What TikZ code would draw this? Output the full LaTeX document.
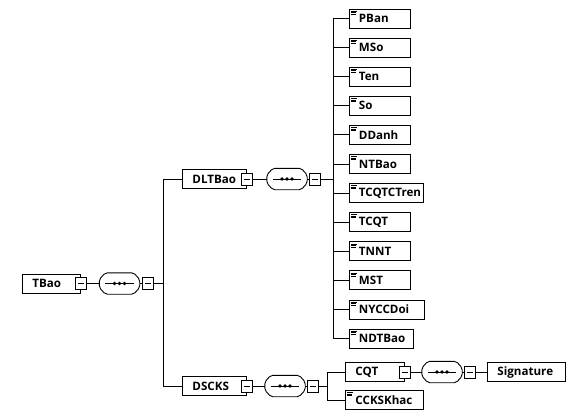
\documentclass[tikz,border=0pt]{standalone}
\usepackage{fontspec}
\setmainfont{Open Sans}
\usetikzlibrary{calc}
\newcommand\seqdraw[1]{%
  \draw[line width=0.9pt, rounded corners=2pt] ([xshift=6pt]#1.north west) -- ([xshift=-6pt]#1.north east) -- ([yshift=4pt]#1.east) -- ([yshift=-4pt]#1.east) -- ([xshift=-6pt]#1.south east) -- ([xshift=6pt]#1.south west) -- ([yshift=-4pt]#1.west) -- ([yshift=4pt]#1.west) -- cycle;
  \draw[line width=0.8pt] ([xshift=6pt]#1.west) -- ([xshift=-6pt]#1.east);
  \foreach \d in {-5,0,5} \fill ([xshift=\d pt]#1.center) circle (1.8pt);
}
\begin{document}
\begin{tikzpicture}[x=1pt,y=-1pt,
  box/.style={draw, line width=0.9pt, minimum height=19pt, inner xsep=0pt, inner ysep=0pt,
    anchor=west, align=left, font=\fontsize{11.6}{13}\selectfont\bfseries},
  leaf/.style={box, path picture={
    \draw[line width=0.5pt] ([xshift=2pt,yshift=-2pt]path picture bounding box.north west) -- ++(6pt,0pt);
    \draw[line width=0.5pt] ([xshift=2pt,yshift=-3.5pt]path picture bounding box.north west) -- ++(5pt,0pt);
    \draw[line width=0.5pt] ([xshift=2pt,yshift=-5pt]path picture bounding box.north west) -- ++(5pt,0pt);}},
  minus/.style={draw, line width=0.8pt, fill=white, minimum width=11pt, minimum height=12pt, inner sep=0pt,
    path picture={\draw[line width=0.7pt] ([xshift=2.5pt]path picture bounding box.west) -- ([xshift=-2.5pt]path picture bounding box.east);}},
  seqbox/.style={minimum width=40pt, minimum height=21pt, inner sep=0pt},
  link/.style={line width=0.9pt}]
\useasboundingbox (0,0) rectangle (576,420);

% root
\node[box, text width=58pt] (tbao) at (22,283.5) {\hspace*{10pt}TBao};
\node[minus] (tbaom) at (tbao.east) {};
\node[seqbox] (s1) at (119.5,283.5) {};
\seqdraw{s1}
\node[minus, anchor=west] (s1m) at ([xshift=2pt]s1.east) {};
\draw[link] (tbaom) -- (s1);
\draw[link] (s1) -- (s1m);
\coordinate (j1) at (163,283.5);
\draw[link] (s1m) -- (j1);

% DLTBao
\node[box, text width=64pt] (dlt) at (182,179) {\hspace*{10pt}DLTBao};
\node[minus] (dltm) at (dlt.east) {};
\node[seqbox] (s2) at (287,179) {};
\seqdraw{s2}
\node[minus, anchor=west] (s2m) at ([xshift=2pt]s2.east) {};
\draw[link] (dltm) -- (s2);
\draw[link] (s2) -- (s2m);
\coordinate (j2) at (333,179);
\draw[link] (s2m) -- (j2);

% DSCKS
\node[box, text width=64pt] (dsc) at (182,386) {\hspace*{10pt}DSCKS};
\node[minus] (dscm) at (dsc.east) {};
\node[seqbox] (s3) at (285,386) {};
\seqdraw{s3}
\node[minus, anchor=west] (s3m) at ([xshift=2pt]s3.east) {};
\draw[link] (dscm) -- (s3);
\draw[link] (s3) -- (s3m);
\coordinate (j3) at (327,386);
\draw[link] (s3m) -- (j3);

% root trunk
\draw[link] (j1 |- dlt.west) -- (j1 |- dsc.west);
\draw[link] (j1 |- dlt.west) -- (dlt.west);
\draw[link] (j1 |- dsc.west) -- (dsc.west);

% DLTBao children
\foreach \nm/\txt/\w [count=\i from 0] in {c1/PBan/61, c2/MSo/61, c3/Ten/61, c4/So/61, c5/DDanh/61, c6/NTBao/61,
   c7/TCQTCTren/74, c8/TCQT/61, c9/TNNT/61, c10/MST/61, c11/NYCCDoi/75, c12/NDTBao/64}{
  \node[leaf, text width=\w pt] (\nm) at (348.5,18.5+29.1*\i) {\hspace*{10pt}\txt};
  \draw[link] (j2 |- \nm.west) -- (\nm.west);
}
\draw[link] (j2 |- c1.west) -- (j2 |- c12.west);

% DSCKS children
\node[box, text width=59pt] (cqt) at (345,372) {\hspace*{10pt}CQT};
\node[minus] (cqtm) at (cqt.east) {};
\node[seqbox] (s4) at (442,372) {};
\seqdraw{s4}
\node[minus, anchor=west] (s4m) at ([xshift=2pt]s4.east) {};
\draw[link] (cqtm) -- (s4);
\draw[link] (s4) -- (s4m);
\node[box, text width=78pt] (sig) at (487,372) {\hspace*{10pt}Signature};
\draw[link] (s4m) -- (sig);
\node[leaf, text width=78pt] (cck) at (345,400) {\hspace*{10pt}CCKSKhac};
\draw[link] (j3 |- cqt.west) -- (j3 |- cck.west);
\draw[link] (j3 |- cqt.west) -- (cqt.west);
\draw[link] (j3 |- cck.west) -- (cck.west);
\end{tikzpicture}
\end{document}
